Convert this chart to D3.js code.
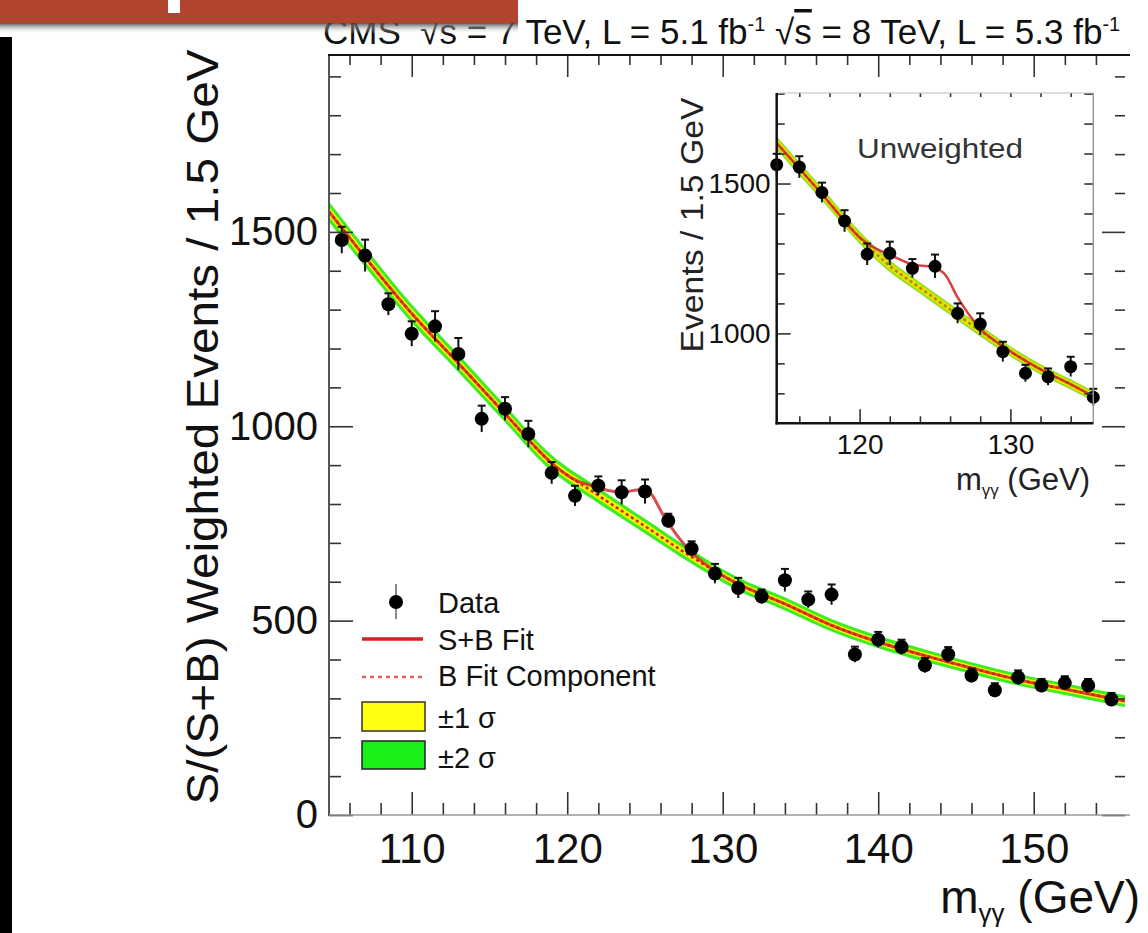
<!DOCTYPE html>
<html>
<head>
<meta charset="utf-8">
<script src="https://cdn.jsdelivr.net/npm/d3@7"></script>
<style>
  html, body { margin: 0; padding: 0; background: #fff; }
  svg { display: block; }
</style>
</head>
<body>
<svg id="chart" width="1148" height="933"></svg>
<script>
// ---- main plot: S/(S+B) weighted events, 1.5 GeV bins ----
const massBins = [105.5, 107, 108.5, 110, 111.5, 113, 114.5, 116, 117.5, 119, 120.5, 122, 123.5, 125, 126.5, 128, 129.5,
  131, 132.5, 134, 135.5, 137, 138.5, 140, 141.5, 143, 144.5, 146, 147.5, 149, 150.5, 152, 153.5, 155];
const weightedEvents = [1479, 1439, 1314, 1238, 1257, 1186, 1019, 1045, 980, 880, 821, 847, 830, 832, 757, 685, 621,
  584, 562, 604, 554, 567, 413, 451, 432, 385, 413, 359, 321, 354, 333, 340, 333, 297];
const weightedErr = [34, 41, 28, 32, 39, 41, 34, 30, 34, 28, 26, 24, 31, 31, 18, 19, 25,
  26, 18, 29, 21, 26, 20, 20, 19, 19, 19, 18, 18, 18, 17, 17, 17, 17];

// background fit component + 1/2 sigma bands
const bFitMass = [104.68, 107, 110, 113, 116, 119, 122, 125, 128, 131, 134, 137, 140, 143, 146, 149, 152, 155.87];
const bFit     = [1552, 1435, 1290, 1162, 1032, 905, 822, 743, 664, 594, 543, 488, 445, 410, 378, 348, 324, 293];
const bSigma1  = [13, 12.5, 12, 11.5, 11, 10.5, 10, 9.5, 9, 8.5, 8.5, 8, 8, 8, 7.5, 7.5, 7.5, 7.5];
const bSigma2  = [26, 25, 24, 23, 22, 21, 20, 19, 18, 17, 17, 16, 16, 16, 15, 15, 15, 15];

// signal + background fit
const sbFitMass = [104.68, 107, 110, 113, 116, 119, 120.5, 121.5, 122.5, 123.5, 124.5, 125.2, 126.2, 127.2, 128.2,
  129.5, 131, 134, 137, 140, 143, 146, 149, 152, 155.87];
const sbFit = [1552, 1435, 1290, 1162, 1032, 905, 862, 848, 836, 830, 836, 834, 770, 712, 668,
  628, 594, 543, 488, 445, 410, 378, 348, 324, 293];

// ---- inset: unweighted events ----
const insetBins = [114.5, 116, 117.5, 119, 120.5, 122, 123.5, 125, 126.5, 128, 129.5, 131, 132.5, 134, 135.5];
const insetEvents = [1563, 1555, 1470, 1375, 1264, 1267, 1217, 1224, 1067, 1031, 939, 867, 855, 889, 787];
const insetErr = [36, 36, 33, 36, 36, 39, 31, 39, 33, 36, 33, 28, 28, 33, 28];

const insetBMass = [114.5, 116, 117.5, 120, 122, 124, 126, 128, 130, 132, 134, 135.5];
const insetB     = [1635, 1550, 1465, 1320, 1225, 1152, 1080, 1008, 940, 880, 830, 790];
const insetSig1  = [14, 14, 13, 13, 13, 12, 12, 12, 11, 11, 11, 11];
const insetSig2  = [22, 22, 21, 21, 20, 19, 19, 18, 17, 17, 17, 17];

const insetSBMass = [114.5, 116, 117.5, 120, 121, 122, 123.5, 124.8, 125.6, 126.5, 127.3, 128.2, 130, 132, 134, 135.5];
const insetSB     = [1635, 1550, 1465, 1320, 1285, 1262, 1230, 1222, 1200, 1120, 1060, 1006, 940, 880, 830, 790];

// ticks
const xMajor = [110, 120, 130, 140, 150];
const xMinor = [106, 108, 112, 114, 116, 118, 122, 124, 126, 128, 132, 134, 136, 138, 142, 144, 146, 148, 152, 154];
const yMajor = [0, 500, 1000, 1500];
const yMinor = [100, 200, 300, 400, 600, 700, 800, 900, 1100, 1200, 1300, 1400, 1600, 1700, 1800, 1900];
const insetXMajor = [120, 130];
const insetXMinor = [116, 118, 122, 124, 126, 128, 132, 134];
const insetYMajor = [1000, 1500];
const insetYMinor = [800, 900, 1100, 1200, 1300, 1400, 1600, 1700, 1800];

const legendLabels = ['Data', 'S+B Fit', 'B Fit Component', '\u00b11 \u03c3', '\u00b12 \u03c3'];

const FONT = 'Liberation Sans, Arial, Helvetica, sans-serif';
const RED = '#d02222';
const YELLOW = '#f6f200';
const GREEN = '#3ded22';

const svg = d3.select('#chart');
const defs = svg.append('defs');

// ---------- main plot ----------
const x = d3.scaleLinear().domain([104.68, 155.87]).range([329, 1125]);
const y = d3.scaleLinear().domain([0, 1955]).range([815, 55]);

defs.append('clipPath').attr('id', 'clipMain')
  .append('rect').attr('x', 329).attr('y', 55).attr('width', 796).attr('height', 760);

const bPts = bFitMass.map((m, i) => ({ m, v: bFit[i], s1: bSigma1[i], s2: bSigma2[i] }));
const sbPts = sbFitMass.map((m, i) => ({ m, v: sbFit[i] }));

const plot = svg.append('g').attr('clip-path', 'url(#clipMain)');

const band = (k) => d3.area()
  .x(d => x(d.m)).y0(d => y(d.v - d[k])).y1(d => y(d.v + d[k]))
  .curve(d3.curveCatmullRom);
const line = d3.line().x(d => x(d.m)).y(d => y(d.v)).curve(d3.curveCatmullRom);

plot.append('path').datum(bPts).attr('d', band('s2')).attr('fill', GREEN);
plot.append('path').datum(bPts).attr('d', band('s1')).attr('fill', YELLOW);
plot.append('path').datum(bPts).attr('d', line)
  .attr('fill', 'none').attr('stroke', RED).attr('stroke-width', 2.5).attr('stroke-dasharray', '3,3');
plot.append('path').datum(sbPts).attr('d', line)
  .attr('fill', 'none').attr('stroke', RED).attr('stroke-width', 3).attr('stroke-opacity', 0.8);

// data points
const pts = massBins.map((m, i) => ({ m, v: weightedEvents[i], e: weightedErr[i] }));
const dots = svg.append('g');
dots.selectAll('.err').data(pts).enter().append('line')
  .attr('x1', d => x(d.m)).attr('x2', d => x(d.m))
  .attr('y1', d => y(d.v - d.e)).attr('y2', d => y(d.v + d.e))
  .attr('stroke', '#111').attr('stroke-width', 2);
dots.selectAll('.cap').data(pts).enter().append('line')
  .attr('x1', d => x(d.m) - 4).attr('x2', d => x(d.m) + 4)
  .attr('y1', d => y(d.v + d.e)).attr('y2', d => y(d.v + d.e))
  .attr('stroke', '#111').attr('stroke-width', 2);
dots.selectAll('circle').data(pts).enter().append('circle')
  .attr('cx', d => x(d.m)).attr('cy', d => y(d.v)).attr('r', 7).attr('fill', '#000');

// axes (inward ticks)
function styleAxis(g, size) {
  g.select('.domain').remove();
  g.selectAll('.tick line').attr('stroke', '#333').attr('stroke-width', 1.6);
  g.selectAll('.tick text').attr('font-family', FONT).attr('font-size', size).attr('fill', '#111');
}

svg.append('g').attr('transform', 'translate(0,815)')
  .call(d3.axisBottom(x).tickValues(xMajor).tickSize(-23).tickPadding(18).tickFormat(d3.format('d')))
  .call(g => styleAxis(g, 42));
svg.append('g').attr('transform', 'translate(0,815)')
  .call(d3.axisBottom(x).tickValues(xMinor).tickSize(-12).tickFormat(''))
  .call(g => styleAxis(g, 0));
svg.append('g').attr('transform', 'translate(0,55)')
  .call(d3.axisTop(x).tickValues(xMajor).tickSize(-22).tickFormat(''))
  .call(g => styleAxis(g, 0));
svg.append('g').attr('transform', 'translate(0,55)')
  .call(d3.axisTop(x).tickValues(xMinor).tickSize(-10).tickFormat(''))
  .call(g => styleAxis(g, 0));

svg.append('g').attr('transform', 'translate(329,0)')
  .call(d3.axisLeft(y).tickValues(yMajor).tickSize(-24).tickPadding(11).tickFormat(d3.format('d')))
  .call(g => styleAxis(g, 40));
svg.append('g').attr('transform', 'translate(329,0)')
  .call(d3.axisLeft(y).tickValues(yMinor).tickSize(-12).tickFormat(''))
  .call(g => styleAxis(g, 0));
svg.append('g').attr('transform', 'translate(1125,0)')
  .call(d3.axisRight(y).tickValues(yMajor).tickSize(-23).tickFormat(''))
  .call(g => styleAxis(g, 0));
svg.append('g').attr('transform', 'translate(1125,0)')
  .call(d3.axisRight(y).tickValues(yMinor).tickSize(-10).tickFormat(''))
  .call(g => styleAxis(g, 0));

// frame
svg.append('line').attr('x1', 329).attr('x2', 329).attr('y1', 54).attr('y2', 816)
  .attr('stroke', '#555').attr('stroke-width', 2);
svg.append('line').attr('x1', 328).attr('x2', 1130).attr('y1', 55).attr('y2', 55)
  .attr('stroke', '#111').attr('stroke-width', 2);
svg.append('line').attr('x1', 329).attr('x2', 1130).attr('y1', 815).attr('y2', 815)
  .attr('stroke', '#999').attr('stroke-width', 1.5);

// axis titles
svg.append('text')
  .attr('transform', 'translate(218,427) rotate(-90)')
  .attr('text-anchor', 'middle')
  .attr('font-family', FONT).attr('font-size', 45).attr('fill', '#111')
  .attr('textLength', 755).attr('lengthAdjust', 'spacingAndGlyphs')
  .text('S/(S+B) Weighted Events / 1.5 GeV');

const xt = svg.append('text')
  .attr('x', 1140).attr('y', 913).attr('text-anchor', 'end')
  .attr('font-family', FONT).attr('font-size', 46).attr('fill', '#111');
xt.append('tspan').text('m');
xt.append('tspan').attr('font-size', 26).attr('dy', 9).text('\u03b3\u03b3');
xt.append('tspan').attr('dy', -9).text(' (GeV)');

// title
const tt = svg.append('text')
  .attr('x', 323).attr('y', 44)
  .attr('font-family', FONT).attr('font-size', 35).attr('fill', '#111')
  .style('white-space', 'pre');
tt.append('tspan').text('CMS  \u221a');
tt.append('tspan').style('text-decoration', 'overline').text('s');
tt.append('tspan').text(' = 7 TeV, L = 5.1 fb');
tt.append('tspan').attr('font-size', 20).attr('dy', -13).text('-1');
tt.append('tspan').attr('dy', 13).text(' \u221a');
tt.append('tspan').style('text-decoration', 'overline').text('s');
tt.append('tspan').text(' = 8 TeV, L = 5.3 fb');
tt.append('tspan').attr('font-size', 20).attr('dy', -13).text('-1');

// legend
const lg = svg.append('g');
lg.append('line').attr('x1', 396).attr('x2', 396).attr('y1', 584).attr('y2', 619)
  .attr('stroke', '#888').attr('stroke-width', 2);
lg.append('circle').attr('cx', 396).attr('cy', 602).attr('r', 7).attr('fill', '#000');
lg.append('line').attr('x1', 362).attr('x2', 423).attr('y1', 639).attr('y2', 639)
  .attr('stroke', RED).attr('stroke-width', 3.5);
lg.append('line').attr('x1', 362).attr('x2', 423).attr('y1', 677).attr('y2', 677)
  .attr('stroke', '#e06060').attr('stroke-width', 2.5).attr('stroke-dasharray', '4,4');
lg.append('rect').attr('x', 362).attr('y', 702).attr('width', 63).attr('height', 29)
  .attr('fill', '#ffff10').attr('stroke', '#333').attr('stroke-width', 1.5);
lg.append('rect').attr('x', 362).attr('y', 741).attr('width', 63).attr('height', 28)
  .attr('fill', '#18f018').attr('stroke', '#222').attr('stroke-width', 1.5);
const legendBase = [613, 650, 686, 728, 768];
lg.selectAll('text').data(legendLabels).enter().append('text')
  .attr('x', 438).attr('y', (d, i) => legendBase[i])
  .attr('font-family', FONT).attr('font-size', 29).attr('fill', '#111')
  .text(d => d);

// ---------- inset ----------
const xi = d3.scaleLinear().domain([114.5, 135.5]).range([776.7, 1093.3]);
const yi = d3.scaleLinear().domain([700, 1802]).range([423.3, 93]);

defs.append('clipPath').attr('id', 'clipInset')
  .append('rect').attr('x', 776.7).attr('y', 93).attr('width', 316.6).attr('height', 330.3);

const ibPts = insetBMass.map((m, i) => ({ m, v: insetB[i], s1: insetSig1[i], s2: insetSig2[i] }));
const isbPts = insetSBMass.map((m, i) => ({ m, v: insetSB[i] }));
const ipts = insetBins.map((m, i) => ({ m, v: insetEvents[i], e: insetErr[i] }));

const iband = (k) => d3.area()
  .x(d => xi(d.m)).y0(d => yi(d.v - d[k])).y1(d => yi(d.v + d[k]))
  .curve(d3.curveCatmullRom);
const iline = d3.line().x(d => xi(d.m)).y(d => yi(d.v)).curve(d3.curveCatmullRom);

const ip = svg.append('g').attr('clip-path', 'url(#clipInset)');
ip.append('path').datum(ibPts).attr('d', iband('s2')).attr('fill', '#8fe020');
ip.append('path').datum(ibPts).attr('d', iband('s1')).attr('fill', '#e8e000');
ip.append('path').datum(ibPts).attr('d', iline)
  .attr('fill', 'none').attr('stroke', '#a08a10').attr('stroke-width', 2.5).attr('stroke-dasharray', '3,3');
ip.append('path').datum(isbPts).attr('d', iline)
  .attr('fill', 'none').attr('stroke', RED).attr('stroke-width', 2.5).attr('stroke-opacity', 0.85);

const idots = svg.append('g');
idots.selectAll('.err').data(ipts).enter().append('line')
  .attr('x1', d => xi(d.m)).attr('x2', d => xi(d.m))
  .attr('y1', d => yi(d.v - d.e)).attr('y2', d => yi(d.v + d.e))
  .attr('stroke', '#111').attr('stroke-width', 2);
idots.selectAll('.cap').data(ipts).enter().append('line')
  .attr('x1', d => xi(d.m) - 4).attr('x2', d => xi(d.m) + 4)
  .attr('y1', d => yi(d.v + d.e)).attr('y2', d => yi(d.v + d.e))
  .attr('stroke', '#111').attr('stroke-width', 2);
idots.selectAll('circle').data(ipts).enter().append('circle')
  .attr('cx', d => xi(d.m)).attr('cy', d => yi(d.v)).attr('r', 6.5).attr('fill', '#000');

svg.append('g').attr('transform', 'translate(0,423.3)')
  .call(d3.axisBottom(xi).tickValues(insetXMajor).tickSize(-14).tickPadding(11).tickFormat(d3.format('d')))
  .call(g => styleAxis(g, 28));
svg.append('g').attr('transform', 'translate(0,423.3)')
  .call(d3.axisBottom(xi).tickValues(insetXMinor).tickSize(-7).tickFormat(''))
  .call(g => styleAxis(g, 0));
svg.append('g').attr('transform', 'translate(0,93)')
  .call(d3.axisTop(xi).tickValues(insetXMajor.concat(insetXMinor)).tickSize(-4).tickFormat(''))
  .call(g => styleAxis(g, 0));
svg.append('g').attr('transform', 'translate(776.7,0)')
  .call(d3.axisLeft(yi).tickValues(insetYMajor).tickSize(-14).tickPadding(6).tickFormat(d3.format('d')))
  .call(g => styleAxis(g, 28));
svg.append('g').attr('transform', 'translate(776.7,0)')
  .call(d3.axisLeft(yi).tickValues(insetYMinor).tickSize(-8).tickFormat(''))
  .call(g => styleAxis(g, 0));
svg.append('g').attr('transform', 'translate(1093.3,0)')
  .call(d3.axisRight(yi).tickValues(insetYMajor.concat(insetYMinor)).tickSize(-9).tickFormat(''))
  .call(g => styleAxis(g, 0));

svg.append('line').attr('x1', 776.7).attr('x2', 1093.3).attr('y1', 93).attr('y2', 93)
  .attr('stroke', '#bbb').attr('stroke-width', 1);
svg.append('line').attr('x1', 1093.3).attr('x2', 1093.3).attr('y1', 93).attr('y2', 423.3)
  .attr('stroke', '#999').attr('stroke-width', 1.5);
svg.append('line').attr('x1', 776.7).attr('x2', 776.7).attr('y1', 93).attr('y2', 424.5)
  .attr('stroke', '#111').attr('stroke-width', 2.5);
svg.append('line').attr('x1', 775.5).attr('x2', 1093.3).attr('y1', 423.3).attr('y2', 423.3)
  .attr('stroke', '#111').attr('stroke-width', 2.5);

svg.append('text')
  .attr('x', 940).attr('y', 158).attr('text-anchor', 'middle')
  .attr('font-family', FONT).attr('font-size', 27).attr('fill', '#333')
  .attr('textLength', 166).attr('lengthAdjust', 'spacingAndGlyphs')
  .text('Unweighted');

svg.append('text')
  .attr('transform', 'translate(703,225) rotate(-90)')
  .attr('text-anchor', 'middle')
  .attr('font-family', FONT).attr('font-size', 31).attr('fill', '#222')
  .attr('textLength', 255).attr('lengthAdjust', 'spacingAndGlyphs')
  .text('Events / 1.5 GeV');

const ixt = svg.append('text')
  .attr('x', 1090).attr('y', 490).attr('text-anchor', 'end')
  .attr('font-family', FONT).attr('font-size', 31).attr('fill', '#222');
ixt.append('tspan').text('m');
ixt.append('tspan').attr('font-size', 17).attr('dy', 6).text('\u03b3\u03b3');
ixt.append('tspan').attr('dy', -6).text(' (GeV)');

// ---------- slide decoration ----------
const grad = defs.append('linearGradient').attr('id', 'shadow')
  .attr('x1', 0).attr('y1', 0).attr('x2', 0).attr('y2', 1);
grad.append('stop').attr('offset', 0).attr('stop-color', '#444').attr('stop-opacity', 0.9);
grad.append('stop').attr('offset', 1).attr('stop-color', '#fff').attr('stop-opacity', 0);
svg.append('rect').attr('x', 0).attr('y', 23).attr('width', 518).attr('height', 11).attr('fill', 'url(#shadow)');
svg.append('rect').attr('x', 0).attr('y', 0).attr('width', 518).attr('height', 23).attr('fill', '#b1432f');
svg.append('rect').attr('x', 168).attr('y', 0).attr('width', 12).attr('height', 13).attr('fill', '#fff');
svg.append('rect').attr('x', 0).attr('y', 37).attr('width', 12).attr('height', 896).attr('fill', '#000');
</script>
</body>
</html>
